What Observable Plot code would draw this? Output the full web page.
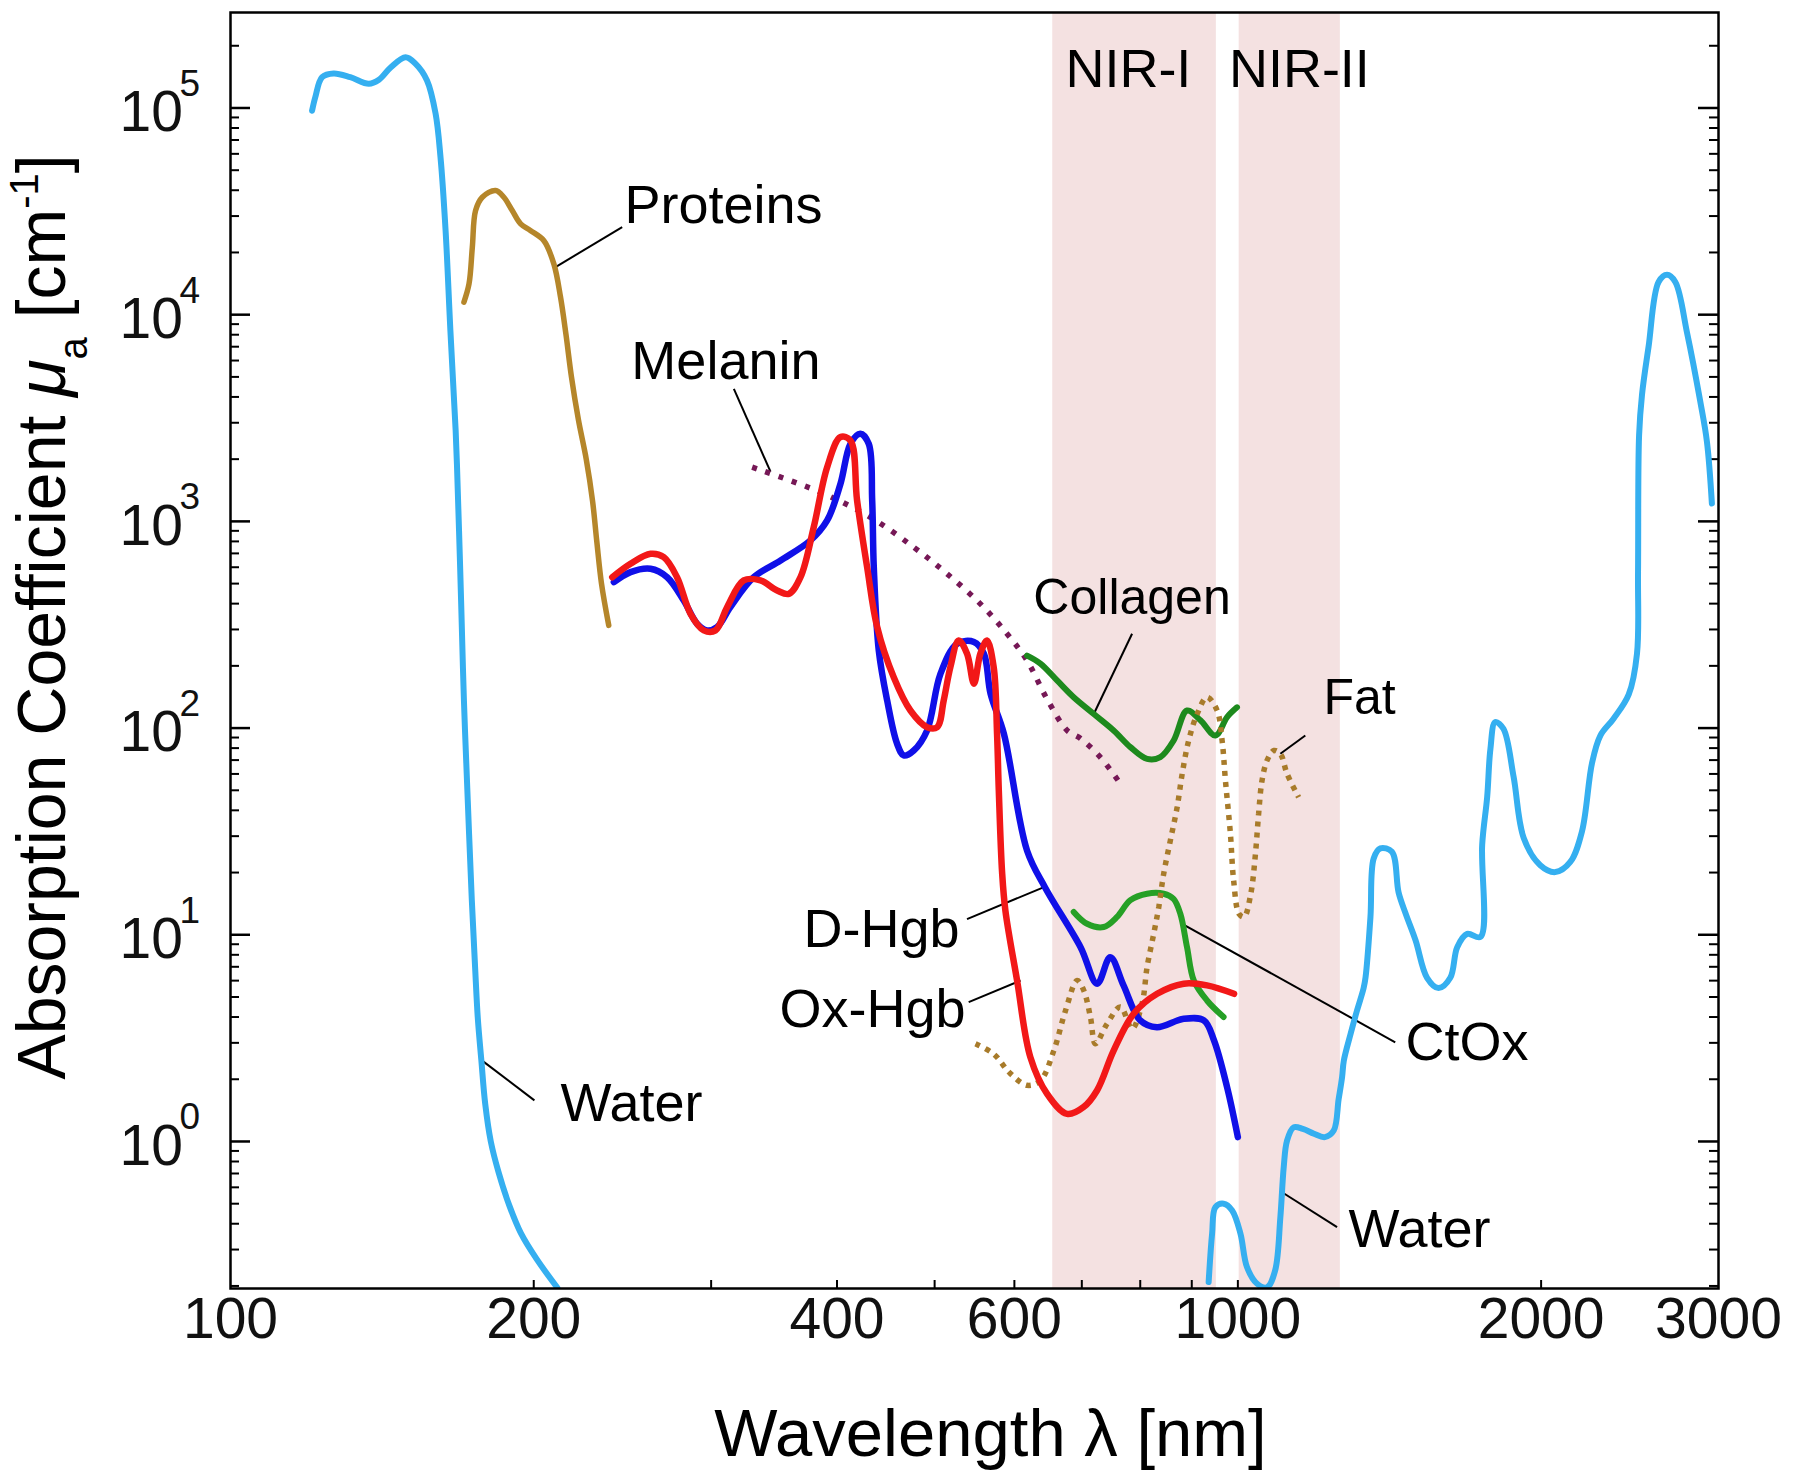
<!DOCTYPE html>
<html><head><meta charset="utf-8">
<script src="https://cdn.jsdelivr.net/npm/d3@7"></script>
<script src="https://cdn.jsdelivr.net/npm/@observablehq/plot@0.6"></script>
<style>html,body{margin:0;padding:0;background:#fff}</style>
</head><body><div id="chart"></div>
<script>
// ---- data: [wavelength nm, absorption coefficient cm^-1] ----
const waterUV = [[120.5,9.7e4],[121.4,1.13e5],[123.3,1.41e5],[126.6,1.47e5],[131.5,1.41e5],[137.2,1.31e5],[140.4,1.37e5],[144.2,1.57e5],[149.2,1.76e5],[152.6,1.64e5],[156.7,1.36e5],[159.8,9.4e4],[161.6,5.8e4],[163.5,2.55e4],[165.3,8.4e3],[167.3,2.76e3],[168.6,904],[169.4,414],[170.5,136],[172,44.7],[173.6,14.7],[174.9,7.0],[176,3.94],[177.4,2.49],[179,1.52],[181.3,1.0],[184.5,0.713],[189.2,0.488],[194.2,0.36],[201.2,0.271],[211.1,0.196]];
const waterIR = [[935.4,0.209],[942.8,0.358],[950,0.481],[968,0.50],[987,0.464],[1006,0.358],[1021,0.247],[1045,0.205],[1069,0.197],[1089,0.238],[1102,0.43],[1110.5,0.751],[1119,1.01],[1136,1.17],[1160,1.15],[1190,1.09],[1220,1.05],[1245,1.13],[1259,1.6],[1269,2.05],[1274,2.46],[1294,3.32],[1313,4.30],[1333,5.52],[1339,6.24],[1354,12.2],[1364,23.4],[1385,26.2],[1422,25.2],[1444,16.0],[1467,12.7],[1501,9.40],[1541,6.19],[1582,5.52],[1625,6.19],[1651,8.71],[1689,10.1],[1741,9.76],[1748,27.3],[1768,46.4],[1781,78.9],[1801,107],[1835,99.2],[1878,58.2],[1922,29.4],[1996,21.7],[2066,20.1],[2138,22.5],[2196,31.7],[2247,67.9],[2290,92.0],[2360,111],[2443,145],[2490,229],[2496,571],[2502,2609],[2519,4121],[2557,7020],[2616,1.44e4],[2667,1.56e4],[2718,1.44e4],[2792,8170],[2877,3820],[2922,2420],[2955,1221]];
const proteins = [[170.5,1.15e4],[172.5,1.41e4],[173.8,2.12e4],[175.1,3.19e4],[177.8,3.7e4],[183.3,3.99e4],[186.8,3.7e4],[190.4,3.19e4],[194.1,2.75e4],[198.6,2.55e4],[204.7,2.28e4],[209.4,1.76e4],[212.6,1.22e4],[215.3,8.0e3],[218,5.0e3],[221.5,3.1e3],[225.5,2.0e3],[228.8,1.25e3],[231,800],[233.5,500],[237.4,314]];
const melanin = [[329.5,1829],[385.1,1384],[431.8,1047],[476.7,750],[514.4,558],[555.1,399],[590,286],[617.7,212],[646.6,138],[676.9,97.4],[698,89],[730.2,72.3],[764.5,53.8]];
const dHgb = [[240.2,508],[249.5,568],[261.2,590],[271.3,537],[281.8,414],[290.5,320],[297.2,297],[304.1,308],[313.5,385],[330.7,537],[351.6,647],[376.5,809],[391.1,1010],[403.2,1521],[412.5,2373],[421.9,2652],[430.1,2373],[433.5,1262],[435.1,601],[440.1,237],[448.6,136],[458.9,84],[466,73.7],[476.7,77.9],[491.5,97.4],[506.7,183],[526.4,256],[547,261],[559.6,229],[568.2,146.6],[585.8,93.8],[617.7,25.5],[643.8,16.9],[698,8.71],[725,5.80],[747,7.79],[770,5.69],[800,3.85],[831,3.57],[883.6,3.92],[925.4,3.85],[947,3.08],[975.7,1.83],[1000,1.05]];
const oxHgb = [[239.3,537],[249.5,624],[261.2,697],[269.2,671],[277.5,537],[286.2,357],[295,297],[303,297],[311.2,385],[323.2,518],[335.8,518],[348.9,463],[358.3,446],[368,537],[379.3,938],[391.1,1829],[403.2,2558],[412.5,2460],[418.8,1262],[428.5,601],[438.5,308],[455.4,176],[473.1,121.6],[491.5,101],[502.9,101],[510.5,136],[518.3,197],[528.3,265],[538.5,229],[547,164],[555.1,229],[563.6,265],[572.3,197],[576.7,93.8],[579,50],[583.4,20],[587.8,13.1],[603.7,6.01],[622.3,2.56],[646.6,1.70],[676.9,1.36],[703.1,1.47],[725,1.77],[752.8,2.75],[788,4.15],[831.5,5.18],[883.6,5.80],[931.9,5.69],[991.3,5.18]];
const collagen = [[617.7,224],[636.8,205],[661.5,170],[687.1,141],[719.4,117],[752.8,97.4],[782.2,80.9],[812.6,71.0],[837.6,72.4],[863.5,87.1],[890.3,121.6],[918,109],[950,92],[975.7,113],[998,126]];
const ctox = [[687.1,12.9],[708.5,11.3],[735.9,10.9],[758.7,12.2],[782.2,14.7],[812.6,15.8],[844,15.8],[863.5,14.9],[876.9,12.6],[890.3,8.71],[904.2,6.01],[931.9,4.81],[967.9,4.0]];
const fat = [[549,2.97],[572.3,2.65],[594.6,2.13],[617.7,1.87],[636.8,1.97],[656.6,2.75],[674.4,4.30],[692.5,6.01],[703.1,5.38],[713.9,4.0],[722.1,2.97],[741.6,3.71],[764.5,4.47],[785.2,3.51],[803.3,4.64],[812.6,6.97],[825,10.1],[834.6,13.6],[844,19.7],[857,28.6],[870.4,41.4],[880.5,60.1],[893.7,87.1],[911.2,117],[931.9,141],[953.5,122],[964.6,87.1],[972,55.8],[983.1,30.8],[990.4,18.3],[1002.8,12.6],[1014.4,12.2],[1030,15.8],[1041,24.6],[1048.6,38.5],[1056.8,55.8],[1069,69.7],[1086,77.9],[1102,75.1],[1119,60.1],[1149,46.3]];

// NIR windows
const bands = [{name:"NIR-I", x1:655, x2:952, lx:778.6},{name:"NIR-II", x1:1003, x2:1264, lx:1151}];

// labels (x = wavelength, y = baseline value)
const labelsStart = [
  {text:"Proteins", x:246.1, y:2.77e4, size:54},
  {text:"Melanin", x:250, y:4.9e3, size:54},
  {text:"Collagen", x:626.6, y:357, size:50},
  {text:"Fat", x:1216, y:117, size:50},
  {text:"CtOx", x:1467, y:2.49, size:54},
  {text:"Water", x:212.6, y:1.26, size:54},
  {text:"Water", x:1287.6, y:0.307, size:54}
];
const labelsEnd = [
  {text:"D-Hgb", x:529.2, y:8.68, size:54},
  {text:"Ox-Hgb", x:536.5, y:3.56, size:54}
];
const leaders = [
  {x1:210.2,y1:1.70e4,x2:244.8,y2:2.65e4},
  {x1:316,y1:4380,x2:343.6,y2:1740},
  {x1:719.4,y1:117,x2:785.2,y2:286},
  {x1:1102,y1:75.1,x2:1166.7,y2:92.1},
  {x1:538.4,y1:11.9,x2:643.8,y2:17.1},
  {x1:540.5,y1:4.72,x2:608.5,y2:6.01},
  {x1:880.3,y1:11.3,x2:1433,y2:3.02},
  {x1:177.2,y1:2.49,x2:200.3,y2:1.58},
  {x1:1106.3,y1:0.568,x2:1254.5,y2:0.385}
];

// ticks
const xTicks = [200,300,400,500,600,700,800,900,1000,2000];
const xTickLabels = [100,200,400,600,1000,2000,3000];
const yExponents = [0,1,2,3,4,5];
const yMajor = yExponents.map(e => 10 ** e);
const yMinor = [];
for (let e = -1; e <= 5; e++) for (let m = 2; m <= 9; m++) { const v = m * 10 ** e; if (v >= 0.2 && v <= 2.8e5) yMinor.push(v); }

const W = 1800, H = 1484, mL = 230, mR = 82, mT = 12, mB = 196;
const fw = W - mL - mR, fh = H - mT - mB;
const yDomain = [0.1944, 2.897e5];
const font = "Liberation Sans, Arial, Helvetica, sans-serif";

const series = (data, color, extra = {}) => Plot.line(data, {x: d => d[0], y: d => d[1], stroke: color, strokeWidth: 6, curve: "catmull-rom", clip: true, strokeLinejoin: "round", ...extra});

const chart = Plot.plot({
  width: W, height: H,
  marginLeft: mL, marginRight: mR, marginTop: mT, marginBottom: mB,
  axis: null,
  x: {type: "log", domain: [100, 3000]},
  y: {type: "log", domain: yDomain},
  style: {fontFamily: font, background: "white", color: "black"},
  marks: [
    Plot.rect(bands, {x1: "x1", x2: "x2", y1: yDomain[0], y2: yDomain[1], fill: "#f4e1e1"}),
    Plot.text(bands, {x: "lx", y: 1.27e5, text: "name", fontSize: 54, lineAnchor: "bottom", textAnchor: "middle", fill: "black"}),
    // ticks
    Plot.tickX(xTicks, {x: d => d, stroke: "black", strokeWidth: 2, insetTop: fh - 8}),
    Plot.tickY(yMajor, {y: d => d, stroke: "black", strokeWidth: 2.5, insetRight: fw - 20}),
    Plot.tickY(yMajor, {y: d => d, stroke: "black", strokeWidth: 2.5, insetLeft: fw - 20}),
    Plot.tickY(yMinor, {y: d => d, stroke: "black", strokeWidth: 2, insetRight: fw - 9}),
    Plot.tickY(yMinor, {y: d => d, stroke: "black", strokeWidth: 2, insetLeft: fw - 9}),
    // tick labels
    Plot.text(xTickLabels, {x: d => d, frameAnchor: "bottom", dy: 49, text: d => String(d), fontSize: 57, fill: "#111"}),
    Plot.text(yExponents, {y: d => 10 ** d, frameAnchor: "left", dx: -47.5, dy: 5, text: () => "10", textAnchor: "end", fontSize: 57, fill: "#111"}),
    Plot.text(yExponents, {y: d => 10 ** d, frameAnchor: "left", dx: -51, dy: -24, text: d => String(d), textAnchor: "start", fontSize: 37, fill: "#111"}),
    // leaders
    Plot.link(leaders, {x1: "x1", y1: "y1", x2: "x2", y2: "y2", stroke: "black", strokeWidth: 2}),
    // curves
    series(waterUV, "#35aff0"),
    series(waterIR, "#35aff0"),
    series(proteins, "#b5862a", {strokeWidth: 5.5}),
    series(melanin, "#761856", {strokeWidth: 5.5, strokeDasharray: "5,9", strokeLinecap: "butt", strokeLinejoin: "miter"}),
    series(collagen, "#1d8a1d"),
    series(ctox, "#26a026"),
    series(fat, "#a87b2a", {strokeWidth: 5.5, strokeDasharray: "5,6", strokeLinecap: "butt", strokeLinejoin: "miter"}),
    series(dHgb, "#1010e8", {strokeWidth: 6.5}),
    series(oxHgb, "#f21818", {strokeWidth: 6.5}),
    // labels
    Plot.text(labelsStart, {x: "x", y: "y", text: "text", fontSize: "size", textAnchor: "start", lineAnchor: "bottom", fill: "black"}),
    Plot.text(labelsEnd, {x: "x", y: "y", text: "text", fontSize: "size", textAnchor: "end", lineAnchor: "bottom", fill: "black"}),
    // x title
    Plot.text(["Wavelength \u03bb [nm]"], {frameAnchor: "bottom", dx: 16, dy: 167, text: d => d, fontSize: 67, lineAnchor: "bottom", fill: "black"}),
    Plot.frame({stroke: "black", strokeWidth: 2.5})
  ]
});
document.getElementById("chart").append(chart);

// y-axis title with sub/superscripts
const svg = d3.select(chart.tagName.toLowerCase() === "svg" ? chart : chart.querySelector("svg"));
const t = svg.append("text")
  .attr("transform", "translate(64.5,617) rotate(-90)")
  .attr("text-anchor", "middle")
  .attr("font-family", font)
  .attr("font-size", 68)
  .attr("fill", "black");
t.append("tspan").text("Absorption Coefficient ");
t.append("tspan").attr("font-style", "italic").text("\u03bc");
t.append("tspan").attr("font-size", 40).attr("dy", 22).text("a");
t.append("tspan").attr("dy", -22).text(" [cm");
t.append("tspan").attr("font-size", 40).attr("dy", -27).text("-1");
t.append("tspan").attr("dy", 27).text("]");
</script>
</body></html>
